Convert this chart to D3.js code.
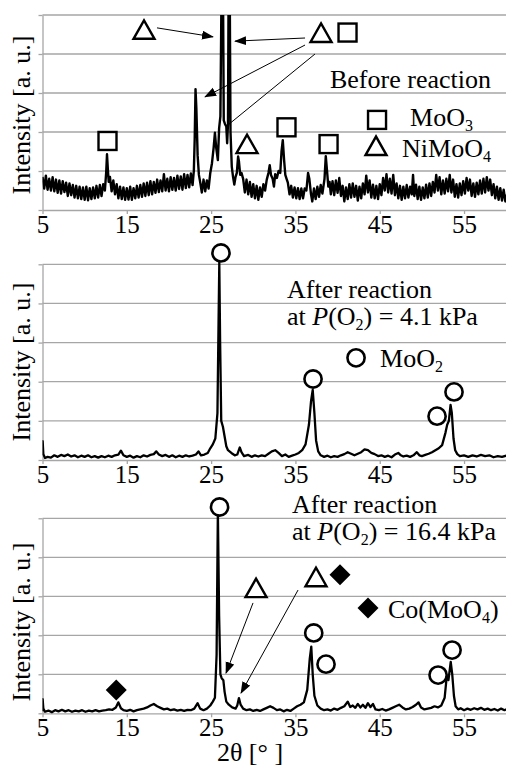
<!DOCTYPE html>
<html><head><meta charset="utf-8">
<script src="https://cdn.jsdelivr.net/npm/d3@7"></script>
<style>
body{margin:0;background:#fff}
svg{display:block}
text{font-family:"Liberation Serif","Times New Roman",serif;fill:#000}
</style>
</head><body>
<svg id="c" width="506" height="769"></svg>
<script>
// ---------- data ----------
const xTicks = [5, 15, 25, 35, 45, 55];
const gridLevels = [1, 2, 3, 4, 5];

// Before reaction: [2theta, intensity]
const beforeData = [
[5.0,0.85],[5.2,0.55],[5.4,0.88],[5.6,0.52],[5.8,0.80],[6.0,0.50],[6.2,0.84],[6.4,0.48],[6.6,0.78],[6.8,0.44],
[7.0,0.76],[7.2,0.42],[7.4,0.74],[7.6,0.46],[7.8,0.70],[8.0,0.36],[8.2,0.68],[8.4,0.38],[8.6,0.64],[8.8,0.32],
[9.0,0.62],[9.2,0.30],[9.4,0.60],[9.6,0.28],[9.8,0.58],[10.0,0.26],[10.2,0.60],[10.4,0.25],[10.6,0.56],[10.8,0.28],
[11.0,0.58],[11.2,0.30],[11.4,0.62],[11.6,0.32],[11.8,0.64],[12.0,0.36],[12.2,0.66],[12.4,0.50],[12.55,0.95],[12.65,1.43],
[12.75,1.05],[12.85,0.72],[13.0,0.85],[13.2,0.48],[13.4,0.76],[13.6,0.40],[13.8,0.66],[14.0,0.30],[14.2,0.60],[14.4,0.28],
[14.6,0.58],[14.8,0.26],[15.0,0.56],[15.2,0.27],[15.4,0.60],[15.6,0.26],[15.8,0.56],[16.0,0.30],[16.2,0.62],[16.4,0.32],
[16.6,0.64],[16.8,0.34],[17.0,0.68],[17.2,0.36],[17.4,0.70],[17.6,0.38],[17.8,0.74],[18.0,0.40],[18.2,0.72],[18.4,0.44],
[18.6,0.78],[18.8,0.46],[19.0,0.76],[19.2,0.48],[19.4,0.92],[19.6,0.50],[19.8,0.80],[20.0,0.48],[20.2,0.84],[20.4,0.52],
[20.6,0.82],[20.8,0.50],[21.0,0.88],[21.2,0.54],[21.4,0.86],[21.6,0.52],[21.8,0.92],[22.0,0.56],[22.2,0.90],[22.4,0.58],
[22.6,0.94],[22.8,0.64],[22.95,1.0],[23.05,1.8],[23.15,3.1],[23.25,2.6],[23.4,1.4],[23.55,0.9],[23.7,0.72],[23.9,0.45],
[24.1,0.78],[24.3,0.48],[24.5,0.76],[24.7,0.55],[24.9,0.95],[25.1,1.2],[25.3,1.6],[25.45,1.98],[25.6,1.6],[25.8,1.28],
[25.95,2.1],[26.1,2.4],[26.25,6],[26.4,6],[26.5,2.3],[26.65,2.2],[26.8,2.14],[26.9,1.71],[27.0,2.2],[27.08,6],
[27.2,6],[27.3,2.0],[27.45,1.11],[27.6,0.85],[27.75,0.65],[27.9,0.85],[28.05,0.95],[28.2,1.37],[28.3,1.25],[28.45,0.90],
[28.6,0.95],[28.8,0.80],[29.0,0.45],[29.2,0.78],[29.4,0.40],[29.6,0.72],[29.8,0.34],[30.0,0.66],[30.2,0.30],[30.4,0.62],
[30.6,0.26],[30.8,0.58],[31.0,0.34],[31.2,0.66],[31.4,0.50],[31.6,0.78],[31.8,0.95],[31.95,1.15],[32.1,0.90],[32.3,0.80],
[32.45,0.60],[32.6,0.92],[32.8,0.82],[33.0,1.0],[33.2,0.95],[33.35,1.50],[33.5,1.79],[33.65,1.30],[33.8,0.90],[33.95,0.80],
[34.1,0.70],[34.3,0.40],[34.5,0.62],[34.7,0.32],[34.9,0.58],[35.1,0.30],[35.3,0.56],[35.5,0.28],[35.7,0.55],[35.9,0.30],
[36.1,0.55],[36.3,0.50],[36.5,0.95],[36.65,0.80],[36.85,0.40],[37.0,0.22],[37.2,0.55],[37.4,0.28],[37.6,0.60],[37.8,0.34],
[38.0,0.64],[38.2,0.42],[38.45,0.80],[38.6,1.38],[38.75,1.00],[38.9,0.60],[39.05,0.72],[39.2,0.40],[39.4,0.74],[39.6,0.38],
[39.8,0.76],[40.0,0.44],[40.2,0.82],[40.4,0.36],[40.6,0.62],[40.8,0.22],[41.0,0.58],[41.2,0.28],[41.4,0.66],[41.6,0.32],
[41.8,0.68],[42.0,0.34],[42.2,0.62],[42.4,0.24],[42.6,0.60],[42.8,0.30],[43.0,0.68],[43.2,0.40],[43.4,0.88],[43.6,0.45],
[43.8,0.76],[44.0,0.32],[44.2,0.65],[44.4,0.30],[44.6,0.62],[44.8,0.28],[45.0,0.66],[45.2,0.38],[45.4,0.82],[45.6,0.50],
[45.8,0.92],[46.0,0.45],[46.2,0.80],[46.4,0.42],[46.6,0.90],[46.8,0.38],[47.0,0.68],[47.2,0.30],[47.4,0.62],[47.6,0.26],
[47.8,0.60],[48.0,0.30],[48.2,0.64],[48.4,0.32],[48.6,0.60],[48.8,0.40],[48.95,0.90],[49.1,0.36],[49.3,0.65],[49.5,0.28],
[49.7,0.60],[49.9,0.26],[50.1,0.58],[50.3,0.30],[50.5,0.65],[50.7,0.32],[50.9,0.68],[51.1,0.36],[51.3,0.72],[51.5,0.45],
[51.7,0.90],[51.9,0.50],[52.1,0.84],[52.3,0.40],[52.5,0.76],[52.7,0.42],[52.9,0.80],[53.1,0.48],[53.3,0.90],[53.5,0.45],
[53.7,0.78],[53.9,0.34],[54.1,0.66],[54.3,0.32],[54.5,0.68],[54.7,0.38],[54.9,0.74],[55.1,0.42],[55.3,0.82],[55.5,0.50],
[55.7,0.78],[55.9,0.36],[56.1,0.68],[56.3,0.34],[56.5,0.70],[56.7,0.40],[56.9,0.76],[57.1,0.42],[57.3,0.80],[57.5,0.45],
[57.7,0.84],[57.9,0.50],[58.1,0.78],[58.3,0.38],[58.5,0.66],[58.7,0.30],[58.9,0.60],[59.1,0.26],[59.3,0.56],[59.5,0.24],
[59.7,0.52],[59.9,0.22],[60.0,0.40]
];

// After reaction at P(O2) = 4.1 kPa
const after41Data = [
[5.0,0.12],[5.02,0.48],[5.1,0.15],[5.3,0.05],[5.6,0.08],[6.0,0.06],[6.4,0.12],[6.8,0.08],[7.2,0.13],[7.6,0.10],
[8.0,0.14],[8.4,0.09],[8.8,0.12],[9.2,0.07],[9.6,0.11],[10.0,0.08],[10.4,0.12],[10.8,0.07],[11.2,0.10],[11.6,0.06],
[12.0,0.10],[12.4,0.07],[12.8,0.11],[13.2,0.08],[13.6,0.12],[14.0,0.14],[14.3,0.24],[14.6,0.12],[15.0,0.08],[15.4,0.11],
[15.8,0.06],[16.2,0.10],[16.6,0.07],[17.0,0.12],[17.4,0.09],[17.8,0.13],[18.2,0.15],[18.5,0.22],[18.8,0.14],[19.2,0.10],
[19.6,0.13],[20.0,0.08],[20.4,0.12],[20.8,0.07],[21.2,0.11],[21.6,0.08],[22.0,0.12],[22.4,0.09],[22.8,0.11],[23.2,0.14],
[23.5,0.22],[23.8,0.12],[24.2,0.14],[24.6,0.18],[24.9,0.30],[25.2,0.40],[25.5,0.55],[25.75,1.2],[25.88,3.5],[25.97,5.05],
[26.07,3.0],[26.2,1.0],[26.4,0.85],[26.6,0.6],[26.8,0.35],[27.0,0.25],[27.4,0.18],[27.8,0.12],[28.1,0.14],[28.4,0.32],
[28.6,0.20],[28.9,0.10],[29.4,0.13],[29.8,0.08],[30.2,0.12],[30.6,0.09],[31.0,0.12],[31.4,0.10],[31.8,0.16],[32.2,0.22],
[32.6,0.25],[33.0,0.18],[33.4,0.10],[33.8,0.14],[34.2,0.08],[34.6,0.11],[35.0,0.14],[35.4,0.18],[35.8,0.25],[36.2,0.40],
[36.6,0.9],[36.85,1.5],[37.05,1.79],[37.25,1.2],[37.45,0.5],[37.7,0.22],[38.0,0.12],[38.4,0.08],[38.8,0.11],[39.2,0.07],
[39.6,0.10],[40.0,0.08],[40.4,0.12],[40.8,0.15],[41.2,0.20],[41.6,0.16],[42.0,0.12],[42.4,0.16],[42.8,0.20],[43.2,0.27],
[43.6,0.25],[44.0,0.18],[44.4,0.15],[44.8,0.10],[45.2,0.12],[45.6,0.08],[46.0,0.11],[46.4,0.07],[46.8,0.14],[47.2,0.18],
[47.5,0.12],[47.8,0.09],[48.2,0.11],[48.6,0.08],[49.0,0.12],[49.4,0.20],[49.7,0.12],[50.0,0.10],[50.4,0.13],[50.8,0.16],
[51.2,0.20],[51.6,0.25],[52.0,0.30],[52.4,0.38],[52.8,0.70],[53.0,0.90],[53.2,1.00],[53.4,1.41],[53.55,1.2],[53.75,0.55],
[53.95,0.25],[54.2,0.15],[54.5,0.10],[55.0,0.12],[55.5,0.08],[56.0,0.12],[56.5,0.09],[57.0,0.13],[57.5,0.10],[58.0,0.12],
[58.5,0.07],[59.0,0.10],[59.5,0.08],[60.0,0.11]
];

// After reaction at P(O2) = 16.4 kPa
const after164Data = [
[5.0,0.05],[5.02,0.36],[5.1,0.12],[5.3,0.04],[5.7,0.07],[6.1,0.03],[6.5,0.08],[6.9,0.05],[7.3,0.09],[7.7,0.05],
[8.1,0.08],[8.5,0.04],[8.9,0.07],[9.3,0.05],[9.7,0.08],[10.1,0.04],[10.5,0.07],[10.9,0.05],[11.3,0.08],[11.7,0.05],
[12.1,0.07],[12.5,0.08],[12.9,0.10],[13.3,0.09],[13.7,0.15],[14.0,0.28],[14.3,0.13],[14.6,0.08],[15.0,0.06],[15.4,0.09],
[15.8,0.05],[16.2,0.08],[16.6,0.10],[17.0,0.12],[17.4,0.15],[17.8,0.20],[18.2,0.24],[18.6,0.18],[19.0,0.14],[19.4,0.10],
[19.8,0.12],[20.2,0.08],[20.6,0.10],[21.0,0.07],[21.4,0.09],[21.8,0.06],[22.2,0.09],[22.6,0.08],[23.0,0.12],[23.4,0.26],
[23.7,0.12],[24.1,0.08],[24.5,0.12],[24.9,0.20],[25.2,0.30],[25.45,0.40],[25.65,1.5],[25.8,5.2],[25.95,2.5],[26.1,1.0],
[26.25,0.9],[26.45,0.85],[26.6,0.55],[26.8,0.30],[27.1,0.22],[27.5,0.15],[27.9,0.12],[28.1,0.20],[28.3,0.39],[28.5,0.22],
[28.8,0.12],[29.2,0.08],[29.6,0.10],[30.0,0.06],[30.4,0.09],[30.8,0.06],[31.2,0.10],[31.6,0.14],[32.0,0.18],[32.4,0.14],
[32.8,0.08],[33.2,0.10],[33.6,0.05],[34.0,0.09],[34.4,0.06],[34.8,0.12],[35.2,0.18],[35.6,0.22],[36.0,0.28],[36.4,0.60],
[36.7,1.4],[36.88,1.71],[37.05,1.0],[37.25,0.45],[37.6,0.20],[38.0,0.12],[38.4,0.08],[38.8,0.10],[39.2,0.07],[39.6,0.12],
[40.0,0.09],[40.4,0.14],[40.8,0.18],[41.2,0.30],[41.5,0.16],[41.8,0.20],[42.1,0.14],[42.4,0.24],[42.7,0.15],[43.0,0.22],
[43.3,0.14],[43.6,0.26],[43.9,0.16],[44.2,0.24],[44.5,0.10],[44.9,0.08],[45.3,0.11],[45.7,0.07],[46.1,0.10],[46.5,0.14],
[46.9,0.18],[47.3,0.22],[47.7,0.15],[48.1,0.10],[48.5,0.12],[48.9,0.16],[49.3,0.22],[49.6,0.28],[49.9,0.15],[50.3,0.10],
[50.7,0.12],[51.1,0.14],[51.5,0.18],[51.9,0.15],[52.3,0.20],[52.7,0.40],[52.95,0.95],[53.15,0.85],[53.42,1.32],[53.6,1.0],
[53.8,0.45],[54.0,0.18],[54.3,0.10],[54.6,0.13],[55.0,0.08],[55.4,0.12],[55.8,0.09],[56.2,0.13],[56.6,0.10],[57.0,0.14],
[57.4,0.09],[57.8,0.12],[58.2,0.08],[58.6,0.11],[59.0,0.07],[59.4,0.12],[59.8,0.08],[60.0,0.10]
];

// phase markers: [shape, 2theta, intensity]
const beforeMarkers = [
["square",12.71,1.77],["triangle",17.04,4.62],["triangle",38.04,4.54],["square",41.18,4.55],
["square",33.94,2.12],["triangle",29.26,1.69],["square",38.93,1.69],
["square",44.68,2.31],["triangle",44.56,1.64]
];
const after41Markers = [
["circle",26.17,5.29],["circle",37.09,2.07],["circle",51.8,1.12],["circle",53.81,1.74],["circle",42.19,2.61]
];
const after164Markers = [
["circle",26.0,5.29],["circle",37.17,2.06],["circle",38.63,1.26],["circle",51.92,0.98],["circle",53.58,1.62],
["triangle",30.33,3.21],["triangle",37.44,3.49],["diamond",40.29,3.55],["diamond",43.61,2.70],["diamond",13.75,0.60]
];

// arrows: [x1, y1, x2, y2, hasHead]
const beforeArrows = [
[18.58,4.67,25.22,4.44,true],[36.14,4.41,27.84,4.33,true],[36.14,4.23,24.28,2.90,true],[37.32,4.0,27.0,2.18,false]
];
const after41Arrows = [];
const after164Arrows = [
[29.97,2.83,26.77,1.03,true],[35.31,3.16,28.55,0.52,true]
];

// text labels: [2theta, intensity, parts]  parts: [text, style]
const beforeTexts = [
[39.1,3.13,[["Before reaction",""]]],
[48.6,2.16,[["MoO",""],["3","sub"]]],
[47.65,1.36,[["NiMoO",""],["4","sub"]]]
];
const after41Texts = [
[34.0,4.14,[["After reaction",""]]],
[34.0,3.45,[["at ",""],["P","it"],["(O",""],["2","sub"],[") = 4.1 kPa","up"]]],
[45.04,2.38,[["MoO",""],["2","sub"]]]
];
const after164Texts = [
[34.6,5.13,[["After reaction",""]]],
[34.6,4.44,[["at ",""],["P","it"],["(O",""],["2","sub"],[") = 16.4 kPa","up"]]],
[45.98,2.44,[["Co(MoO",""],["4","sub"],[")","up"]]]
];

const yLabel = "Intensity [a. u.]";
const xLabel = "2θ [° ]";

// ---------- drawing ----------
const svg = d3.select("#c");
const W = 506;
const x = d3.scaleLinear().domain([5, 60]).range([42.5, 506.2]);

const defs = svg.append("defs");
defs.append("marker").attr("id","ah").attr("markerUnits","userSpaceOnUse")
  .attr("markerWidth",12).attr("markerHeight",10).attr("refX",11).attr("refY",4.5)
  .attr("orient","auto")
  .append("path").attr("d","M0,0 L12,4.5 L0,9 Z").attr("fill","#000");

const panels = [
  {data: beforeData, yb: 210, yt: 15, markers: beforeMarkers, arrows: beforeArrows, texts: beforeTexts, lw: 2.4, lblC: 115},
  {data: after41Data, yb: 460, yt: 264.3, markers: after41Markers, arrows: after41Arrows, texts: after41Texts, lw: 2.3, lblC: 362},
  {data: after164Data, yb: 713.3, yt: 518.3, markers: after164Markers, arrows: after164Arrows, texts: after164Texts, lw: 2.3, lblC: 622}
];

const gridColor = "#a6a6a6";

panels.forEach((p, i) => {
  const y = d3.scaleLinear().domain([0, 5]).range([p.yb, p.yt]);
  const g = svg.append("g");

  // gridlines
  g.selectAll("line.grid").data(gridLevels).join("line")
    .attr("x1", x.range()[0]).attr("x2", W)
    .attr("y1", d => y(d)).attr("y2", d => y(d))
    .attr("stroke", gridColor).attr("stroke-width", 1.3);

  // left axis with small ticks
  const ax = g.append("g").attr("transform", `translate(${x.range()[0]},0)`)
    .call(d3.axisLeft(y).tickValues([0,1,2,3,4,5]).tickSize(4).tickSizeOuter(0).tickFormat(""));
  ax.select(".domain").attr("stroke", gridColor).attr("stroke-width", 1.3);
  ax.selectAll(".tick line").attr("stroke", gridColor).attr("stroke-width", 1.3);

  // bottom axis
  const bx = g.append("g").attr("transform", `translate(0,${p.yb})`)
    .call(d3.axisBottom(x).tickValues(xTicks).tickSize(4).tickSizeOuter(0).tickFormat(d3.format("d")));
  bx.select(".domain").attr("stroke", gridColor).attr("stroke-width", 1.3);
  bx.selectAll(".tick line").attr("stroke", gridColor).attr("stroke-width", 1.3);
  bx.selectAll(".tick text").attr("y", 23).attr("dy", 0)
    .style("font-family", '"Liberation Serif",serif').style("font-size", "25px").attr("fill", "#000");

  // clip
  const cid = "clip" + i;
  defs.append("clipPath").attr("id", cid).append("rect")
    .attr("x", x.range()[0]).attr("y", p.yt - (i === 0 ? 0 : 3))
    .attr("width", W - x.range()[0]).attr("height", p.yb - p.yt + (i === 0 ? 0 : 3) + 2);

  // trace
  const line = d3.line().x(d => x(d[0])).y(d => y(d[1]));
  g.append("path").datum(p.data).attr("d", line)
    .attr("fill", "none").attr("stroke", "#000").attr("stroke-width", p.lw)
    .attr("stroke-linejoin", "round").attr("clip-path", `url(#${cid})`);

  // arrows
  g.selectAll("line.arr").data(p.arrows).join("line")
    .attr("x1", d => x(d[0])).attr("y1", d => y(d[1]))
    .attr("x2", d => x(d[2])).attr("y2", d => y(d[3]))
    .attr("stroke", "#000").attr("stroke-width", 1)
    .attr("marker-end", d => d[4] ? "url(#ah)" : null);

  // markers
  p.markers.forEach(m => {
    const cx = x(m[1]), cy = y(m[2]);
    if (m[0] === "square") {
      g.append("rect").attr("x", cx - 9).attr("y", cy - 9).attr("width", 18).attr("height", 18)
        .attr("fill", "#fff").attr("stroke", "#000").attr("stroke-width", 2.4);
    } else if (m[0] === "triangle") {
      g.append("path").attr("d", `M${cx-10.5},${cy+9} L${cx+10.5},${cy+9} L${cx},${cy-9.5} Z`)
        .attr("fill", "#fff").attr("stroke", "#000").attr("stroke-width", 2.4).attr("stroke-linejoin","miter");
    } else if (m[0] === "circle") {
      g.append("circle").attr("cx", cx).attr("cy", cy).attr("r", 8.6)
        .attr("fill", "#fff").attr("stroke", "#000").attr("stroke-width", 2.6);
    } else if (m[0] === "diamond") {
      g.append("path").attr("d", `M${cx},${cy-10.5} L${cx+10.5},${cy} L${cx},${cy+10.5} L${cx-10.5},${cy} Z`)
        .attr("fill", "#000");
    }
  });

  // texts
  p.texts.forEach(t => {
    const tx = g.append("text").attr("x", x(t[0])).attr("y", y(t[1]))
      .style("font-size", "26px");
    let shifted = false;
    t[2].forEach(part => {
      const ts = tx.append("tspan").text(part[0]);
      if (part[1] === "sub") { ts.attr("dy", 5).style("font-size", "16px"); shifted = true; }
      else if (part[1] === "up") { ts.attr("dy", shifted ? -5 : 0); shifted = false; }
      else if (part[1] === "it") { ts.style("font-style", "italic"); }
    });
  });

  // y label
  svg.append("text").attr("transform", `translate(30,${p.lblC}) rotate(-90)`)
    .attr("text-anchor", "middle").style("font-size", "26px").text(yLabel);
});

// x label
svg.append("text").attr("x", 250).attr("y", 761).attr("text-anchor", "middle")
  .style("font-size", "26px").text(xLabel);
</script>
</body></html>
